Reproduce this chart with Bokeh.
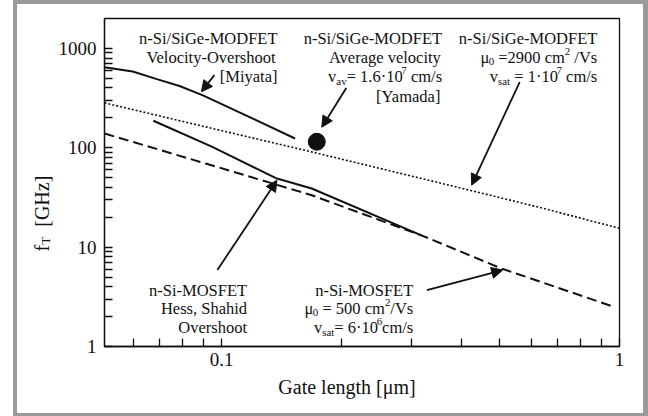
import math

from bokeh.plotting import figure
from bokeh.layouts import row
from bokeh.models import Range1d, FixedTicker, Label, Arrow, NormalHead
from bokeh.embed import file_html
from bokeh.resources import INLINE

# Cut-off frequency f_T (GHz) versus gate length (um)
miyata_L = [0.0508, 0.0598, 0.0691, 0.0784, 0.0895, 0.121, 0.153]
miyata_fT = [645, 585, 488, 418, 339, 193, 124]

hess_L = [0.0674, 0.0948, 0.1378, 0.1685, 0.32]
hess_fT = [187, 102, 49, 38.9, 13.0]

mosfet_L = [0.0508, 0.0912, 0.1685, 0.32, 0.505, 0.97]
mosfet_fT = [139, 69.5, 33.3, 13.0, 6.1, 2.5]

modfet_L = [0.0508, 0.0948, 0.1685, 0.425, 0.6225, 1.0]
modfet_fT = [283, 156.5, 90.9, 37.0, 25.4, 15.5]

yamada_L = [0.1735]
yamada_fT = [115]

x_ticks = [0.1, 1.0]
x_minor = [0.06, 0.07, 0.08, 0.09, 0.2, 0.3, 0.4, 0.5, 0.6, 0.7, 0.8, 0.9]
y_ticks = [1, 10, 100, 1000]
y_minor = [m * d for d in (1, 10, 100) for m in range(2, 10)]

INK = "#111111"
SERIF = "Liberation Serif, Times New Roman, DejaVu Serif, serif"

# Times-compatible advance widths (1/1000 em) used to lay out mixed-size text
ADV = {" ": 250, "-": 333, "/": 278, "=": 564, ".": 250, "\u00b7": 250, ",": 250,
       "[": 333, "]": 333, "a": 444, "c": 444, "d": 500, "e": 444, "f": 333,
       "g": 500, "h": 500, "i": 278, "l": 278, "m": 778, "n": 500, "o": 500,
       "r": 333, "s": 389, "t": 278, "v": 500, "y": 500, "z": 444, "A": 722,
       "D": 722, "E": 611, "F": 556, "G": 722, "H": 722, "M": 889, "O": 722,
       "S": 556, "T": 611, "V": 722, "Y": 722, "\u03bc": 500}


def text_width(s, size):
    return sum(ADV.get(ch, 500) for ch in s) * size / 1000.0


def rich(fig, x, y, runs, size=16.5, align="right", angle=0.0, dy=0.0,
         units="data", sub=4.0):
    """Draw one line made of normal / subscript / superscript runs."""
    small = size * 0.66
    sizes = [small if r else size for _, r in runs]
    total = sum(text_width(t, s) for (t, _), s in zip(runs, sizes))
    pos = -total if align == "right" else (-total / 2 if align == "center" else 0.0)
    for (t, r), fs in zip(runs, sizes):
        core = t.strip(" ")
        lead = len(t) - len(t.lstrip(" "))
        trail = len(t) - len(t.rstrip(" "))
        pos += text_width(" " * lead, fs)
        shift = {"": 0.0, "sub": -sub, "sup": 6.5}[r]
        if angle == 0.0:
            xo, yo = pos, shift + dy
        else:
            xo, yo = -shift, pos
        fig.add_layout(Label(x=x, y=y, x_units=units, y_units=units,
                             text=core, x_offset=xo, y_offset=yo,
                             angle=angle, text_align="left",
                             text_baseline="alphabetic", text_font=SERIF,
                             text_font_size=f"{fs:.1f}px", text_color=INK))
        pos += text_width(core, fs) + text_width(" " * trail, fs)


# narrow strip carrying the vertical y title
ylab = figure(width=38, height=409, title=None, x_axis_type=None, y_axis_type=None,
              output_backend="svg", toolbar_location=None, min_border=0)
ylab.outline_line_color = None
ylab.background_fill_color = "white"
ylab.border_fill_color = "white"
ylab.xgrid.visible = False
ylab.ygrid.visible = False
rich(ylab, 24, 247, [("f", ""), ("T", "sub"), ("  [GHz]", "")], size=20,
     align="left", angle=math.pi / 2, units="canvas", sub=3.5)

p = figure(width=588, height=409, x_axis_type="log", y_axis_type="log",
           x_range=Range1d(0.0508, 1.0), y_range=Range1d(1, 2000),
           output_backend="svg", toolbar_location=None,
           min_border_left=47, min_border_right=24,
           min_border_top=14, min_border_bottom=67)
p.background_fill_color = "white"
p.border_fill_color = "white"
p.outline_line_color = INK
p.outline_line_width = 1.3
p.xgrid.visible = False
p.ygrid.visible = False

p.xaxis.ticker = FixedTicker(ticks=x_ticks, minor_ticks=x_minor)
p.yaxis.ticker = FixedTicker(ticks=y_ticks, minor_ticks=y_minor)
p.xaxis.major_label_overrides = {0.1: "0.1", 1.0: "1"}
p.yaxis.major_label_overrides = {1: "1", 10: "10", 100: "100", 1000: "1000"}
for ax in (p.xaxis, p.yaxis):
    ax.axis_line_color = INK
    ax.axis_line_width = 1.3
    ax.major_tick_line_color = INK
    ax.minor_tick_line_color = INK
    ax.major_tick_line_width = 1.3
    ax.minor_tick_line_width = 1.3
    ax.major_tick_in = 8
    ax.major_tick_out = 0
    ax.minor_tick_in = 8
    ax.minor_tick_out = 0
    ax.major_label_text_font = SERIF
    ax.major_label_text_font_size = "19px"
    ax.major_label_text_color = INK
p.xaxis.major_label_standoff = 6
p.yaxis.major_label_standoff = 8

# x title, nudged left of the frame centre with trailing no-break spaces
p.xaxis.axis_label = "Gate length [\u03bcm]" + "\u00a0" * 6
p.xaxis.axis_label_text_font = SERIF
p.xaxis.axis_label_text_font_size = "20px"
p.xaxis.axis_label_text_font_style = "normal"
p.xaxis.axis_label_text_color = INK
p.xaxis.axis_label_standoff = 7

# curves
p.line(miyata_L, miyata_fT, line_color=INK, line_width=2)
p.line(hess_L, hess_fT, line_color=INK, line_width=2)
p.line(mosfet_L, mosfet_fT, line_color=INK, line_width=2, line_dash="10 5")
p.line(modfet_L, modfet_fT, line_color=INK, line_width=1.6, line_dash="2 2")
p.scatter(yamada_L, yamada_fT, size=17, color=INK)


def block(x, y, lines, step=19.2):
    for i, runs in enumerate(lines):
        if isinstance(runs, str):
            runs = [(runs, "")]
        rich(p, x, y, runs, dy=-step * i)


block(0.1382, 1258, ["n-Si/SiGe-MODFET", "Velocity-Overshoot", "[Miyata]"])
block(0.3582, 1258, ["n-Si/SiGe-MODFET", "Average velocity",
                     [("v", ""), ("av", "sub"), ("= 1.6\u00b710", ""), ("7", "sup"), (" cm/s", "")],
                     "[Yamada]"])
block(0.8794, 1258, ["n-Si/SiGe-MODFET",
                     [("\u03bc", ""), ("0", "sub"), (" =2900 cm", ""), ("2", "sup"), (" /Vs", "")],
                     [("v", ""), ("sat", "sub"), (" = 1\u00b710", ""), ("7", "sup"), (" cm/s", "")]])
block(0.1159, 3.69, ["n-Si-MOSFET", "Hess, Shahid", "Overshoot"], step=18.8)
block(0.3032, 3.69, ["n-Si-MOSFET",
                     [("\u03bc", ""), ("0", "sub"), (" = 500 cm", ""), ("2", "sup"), ("/Vs", "")],
                     [("v", ""), ("sat", "sub"), ("= 6\u00b710", ""), ("6", "sup"), ("cm/s", "")]],
      step=18.8)

# pointers from the notes to the curves
arrows = [
    ((0.0959, 539), (0.0890, 366)),
    ((0.2058, 399), (0.1786, 161)),
    ((0.5613, 458), (0.4251, 42.0)),
    ((0.0976, 5.88), (0.1378, 47.1)),
    ((0.328, 3.69), (0.5088, 5.88)),
]
for (x0, y0), (x1, y1) in arrows:
    p.add_layout(Arrow(x_start=x0, y_start=y0, x_end=x1, y_end=y1,
                       line_color=INK, line_width=1.8,
                       end=NormalHead(size=11, fill_color=INK, line_color=INK,
                                      line_width=1)))

page = row(ylab, p, spacing=0)
page.styles = {"margin-left": "13px", "border-style": "solid",
               "border-color": "#9a9a9a", "border-width": "4px 5px 3px 4px"}

open("out.html", "w").write(file_html(page, INLINE))
